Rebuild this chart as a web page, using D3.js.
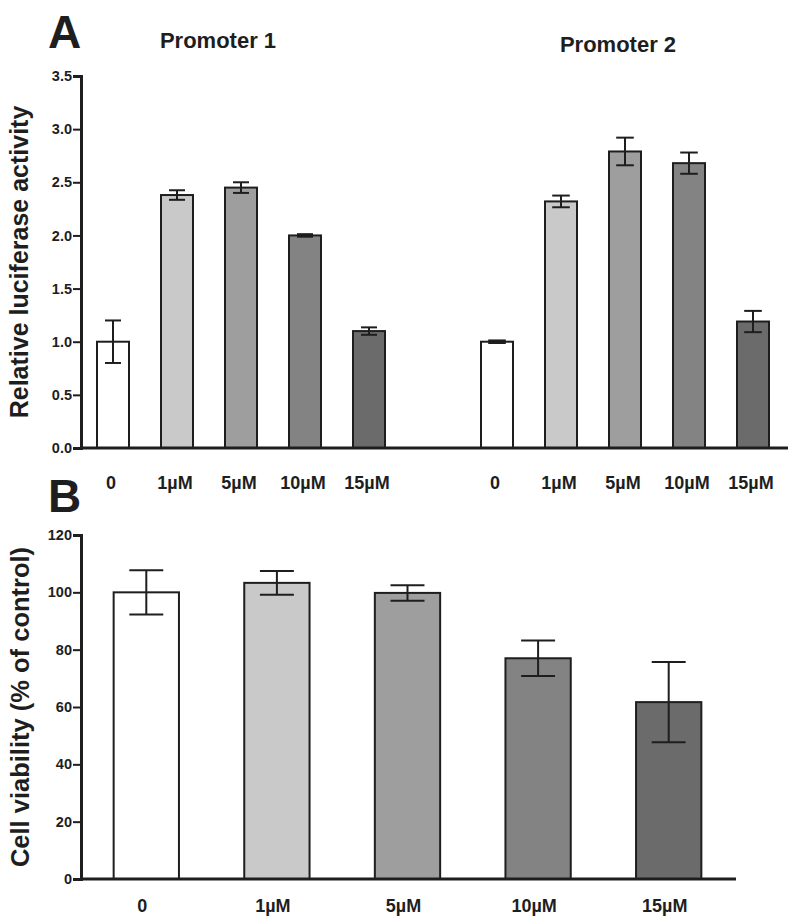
<!DOCTYPE html>
<html>
<head>
<meta charset="utf-8">
<script src="https://cdn.jsdelivr.net/npm/d3@7"></script>
<style>
  html, body { margin: 0; padding: 0; background: #fff; }
  svg { display: block; font-family: "Liberation Sans", Arial, sans-serif; }
</style>
</head>
<body>
<div id="chart"></div>
<script>
// ---------- Data ----------
const doses = ["0", "1\u00b5M", "5\u00b5M", "10\u00b5M", "15\u00b5M"];
const barColors = ["#ffffff", "#c9c9c9", "#9e9e9e", "#838383", "#6b6b6b"];

const promoterNames = ["Promoter 1", "Promoter 2"];
const promoter1Mean = [1.00, 2.38, 2.45, 2.00, 1.10];
const promoter1Err  = [0.20, 0.045, 0.05, 0.012, 0.035];
const promoter2Mean = [1.00, 2.32, 2.79, 2.68, 1.19];
const promoter2Err  = [0.012, 0.055, 0.13, 0.10, 0.10];

const luciferaseTicks = [0, 0.5, 1.0, 1.5, 2.0, 2.5, 3.0, 3.5];

const viabilityMean = [100, 103.3, 99.8, 77.0, 61.7];
const viabilityErr  = [7.7, 4.1, 2.7, 6.2, 14.0];
const viabilityTicks = [0, 20, 40, 60, 80, 100, 120];

// ---------- Setup ----------
const W = 800, H = 924;
const ink = "#1e1e1e";
const FONT = "'Liberation Sans', Arial, sans-serif";
const svg = d3.select("#chart").append("svg").attr("width", W).attr("height", H);

function drawYAxis(g, y, ticks, fmt) {
  const ax = g.append("g").attr("transform", "translate(81,0)")
    .call(d3.axisLeft(y).tickValues(ticks).tickFormat(fmt).tickSize(8).tickPadding(1));
  ax.attr("font-size", 14.5).attr("font-family", FONT);
  ax.select(".domain").attr("stroke", ink).attr("stroke-width", 3);
  ax.selectAll(".tick line").attr("stroke", ink).attr("stroke-width", 2);
  ax.selectAll(".tick text").attr("fill", ink).attr("font-size", 14.5).attr("font-weight", "bold");
}

function drawBars(parent, x, y, keys, means, errs, capFrac) {
  const g = parent.append("g");
  const data = keys.map((k, i) => ({ k, v: means[i], e: errs[i], c: barColors[i % 5] }));
  const bw = x.bandwidth();
  g.selectAll("rect.bar").data(data).enter().append("rect")
    .attr("class", "bar")
    .attr("x", d => x(d.k))
    .attr("width", bw)
    .attr("y", d => y(d.v))
    .attr("height", d => y(0) - y(d.v))
    .attr("fill", d => d.c)
    .attr("stroke", ink).attr("stroke-width", 2);
  const cap = bw * capFrac / 2;
  const eg = g.selectAll("g.err").data(data).enter().append("g").attr("class", "err")
    .attr("stroke", ink).attr("stroke-width", 2);
  eg.append("line")
    .attr("x1", d => x(d.k) + bw / 2).attr("x2", d => x(d.k) + bw / 2)
    .attr("y1", d => y(d.v + d.e)).attr("y2", d => y(d.v - d.e));
  eg.append("line")
    .attr("x1", d => x(d.k) + bw / 2 - cap).attr("x2", d => x(d.k) + bw / 2 + cap)
    .attr("y1", d => y(d.v + d.e)).attr("y2", d => y(d.v + d.e));
  eg.append("line")
    .attr("x1", d => x(d.k) + bw / 2 - cap).attr("x2", d => x(d.k) + bw / 2 + cap)
    .attr("y1", d => y(d.v - d.e)).attr("y2", d => y(d.v - d.e));
}

// ---------- Panel A ----------
const gA = svg.append("g");
const slotsA = [];
doses.forEach(d => slotsA.push("P1|" + d));
slotsA.push("gap");
doses.forEach(d => slotsA.push("P2|" + d));

const xA = d3.scaleBand().domain(slotsA).range([81, 785]).paddingInner(0.5).paddingOuter(0.25);
const yA = d3.scaleLinear().domain([0, 3.5]).range([448, 76]);

drawBars(gA, xA, yA, doses.map(d => "P1|" + d), promoter1Mean, promoter1Err, 0.5);
drawBars(gA, xA, yA, doses.map(d => "P2|" + d), promoter2Mean, promoter2Err, 0.55);

drawYAxis(gA, yA, luciferaseTicks, d3.format(".1f"));
gA.append("line").attr("x1", 80).attr("x2", 788).attr("y1", yA(0)).attr("y2", yA(0))
  .attr("stroke", ink).attr("stroke-width", 3);

// x labels A
const labelsA = doses.map(d => ({ k: "P1|" + d, t: d })).concat(doses.map(d => ({ k: "P2|" + d, t: d })));
gA.append("g").selectAll("text").data(labelsA).enter().append("text")
  .attr("x", d => xA(d.k) + xA.bandwidth() / 2 - 2)
  .attr("y", 489)
  .attr("text-anchor", "middle").attr("font-size", 18).attr("font-weight", "bold").attr("fill", ink)
  .text(d => d.t);

// Promoter titles
gA.append("text").attr("x", 218).attr("y", 48)
  .attr("text-anchor", "middle").attr("font-size", 22).attr("font-weight", "bold").attr("fill", ink)
  .text(promoterNames[0]);
gA.append("text").attr("x", 618).attr("y", 52)
  .attr("text-anchor", "middle").attr("font-size", 22).attr("font-weight", "bold").attr("fill", ink)
  .text(promoterNames[1]);

gA.append("text").attr("x", 48).attr("y", 48).attr("font-size", 46).attr("font-weight", "bold").attr("fill", ink).text("A");

gA.append("text").attr("transform", `translate(28,${(yA(0) + yA(3.5)) / 2}) rotate(-90)`)
  .attr("text-anchor", "middle").attr("font-size", 25).attr("font-weight", "bold").attr("fill", ink)
  .text("Relative luciferase activity");

// ---------- Panel B ----------
const gB = svg.append("g");
const xB = d3.scaleBand().domain(doses).range([81, 734]).paddingInner(0.5).paddingOuter(0.25);
const yB = d3.scaleLinear().domain([0, 120]).range([879, 535]);

drawBars(gB, xB, yB, doses, viabilityMean, viabilityErr, 0.52);
drawYAxis(gB, yB, viabilityTicks, d3.format("d"));
gB.append("line").attr("x1", 80).attr("x2", 736).attr("y1", yB(0)).attr("y2", yB(0))
  .attr("stroke", ink).attr("stroke-width", 3);

gB.append("g").selectAll("text").data(doses).enter().append("text")
  .attr("x", d => xB(d) + xB.bandwidth() / 2 - 4)
  .attr("y", 912)
  .attr("text-anchor", "middle").attr("font-size", 18).attr("font-weight", "bold").attr("fill", ink)
  .text(d => d);

gB.append("text").attr("x", 48).attr("y", 512).attr("font-size", 46).attr("font-weight", "bold").attr("fill", ink).text("B");

gB.append("text").attr("transform", `translate(29,${(yB(0) + yB(120)) / 2}) rotate(-90)`)
  .attr("text-anchor", "middle").attr("font-size", 25.5).attr("font-weight", "bold").attr("fill", ink)
  .text("Cell viability (% of control)");
</script>
</body>
</html>
